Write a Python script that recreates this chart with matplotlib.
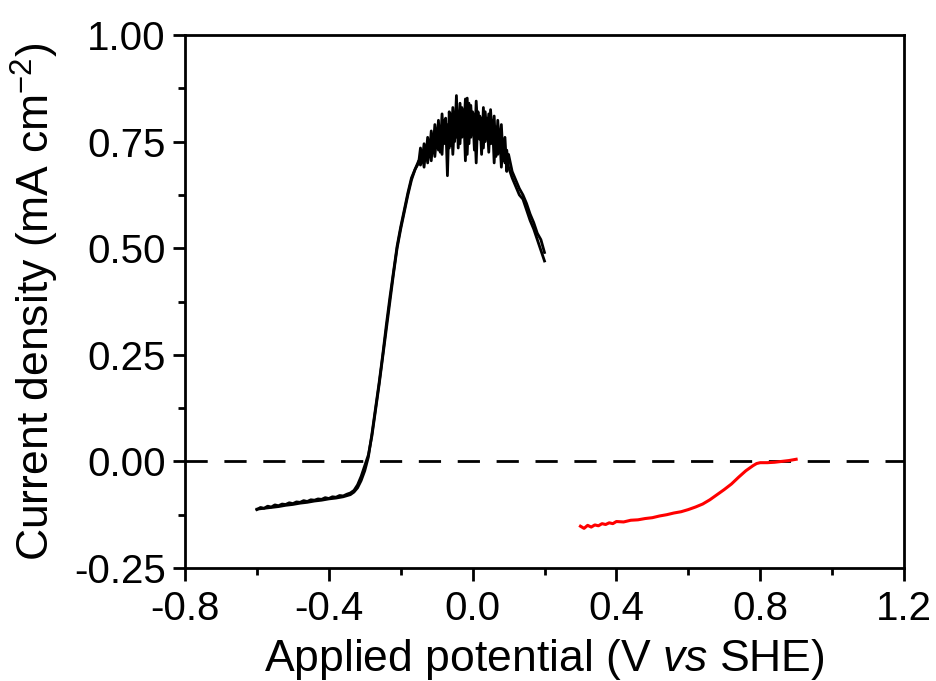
import matplotlib
matplotlib.use("Agg")
import matplotlib.pyplot as plt
from matplotlib.ticker import MultipleLocator

plt.rcParams['font.family'] = ['Liberation Sans', 'DejaVu Sans']
plt.rcParams['mathtext.fontset'] = 'custom'
plt.rcParams['mathtext.rm'] = 'Liberation Sans'
plt.rcParams['mathtext.it'] = 'Liberation Sans:italic'

# Black CV: forward scan (-0.6 -> 0.2 V)
fwd_x = [-0.60, -0.59, -0.58, -0.57, -0.56, -0.55, -0.54, -0.53, -0.52, -0.51,
         -0.50, -0.49, -0.48, -0.47, -0.46, -0.45, -0.44, -0.43, -0.42, -0.41,
         -0.40, -0.39, -0.38, -0.37, -0.36, -0.35, -0.34, -0.33, -0.32, -0.31,
         -0.30, -0.29, -0.28, -0.27, -0.26, -0.25, -0.24, -0.23, -0.22, -0.21,
         -0.20, -0.19, -0.18, -0.17, -0.16,
         -0.150, -0.145, -0.140, -0.135, -0.130, -0.125, -0.120, -0.115, -0.110, -0.105,
         -0.100, -0.095, -0.090, -0.085, -0.080, -0.075, -0.070, -0.065, -0.060, -0.055,
         -0.050, -0.045, -0.040, -0.035, -0.030, -0.025, -0.020, -0.015, -0.010, -0.005,
         0.000, 0.005, 0.010, 0.015, 0.020, 0.025, 0.030, 0.035, 0.040, 0.045,
         0.050, 0.055, 0.060, 0.065, 0.070, 0.075, 0.080, 0.085, 0.090, 0.095, 0.100,
         0.11, 0.12, 0.13, 0.14, 0.15, 0.16, 0.17, 0.18, 0.19, 0.20]
fwd_y = [-0.113, -0.108, -0.110, -0.105, -0.107, -0.102, -0.104, -0.100, -0.101, -0.097,
         -0.099, -0.095, -0.096, -0.092, -0.094, -0.090, -0.091, -0.088, -0.089, -0.085,
         -0.087, -0.083, -0.084, -0.080, -0.081, -0.077, -0.074, -0.068, -0.055, -0.035,
         -0.010, 0.015, 0.060, 0.120, 0.180, 0.245, 0.310, 0.375, 0.440, 0.500,
         0.545, 0.585, 0.625, 0.660, 0.685,
         0.700, 0.735, 0.705, 0.745, 0.715, 0.760, 0.720, 0.775, 0.730, 0.790,
         0.740, 0.800, 0.725, 0.815, 0.745, 0.805, 0.670, 0.820, 0.740, 0.830,
         0.750, 0.858, 0.735, 0.840, 0.760, 0.825, 0.705, 0.852, 0.745, 0.835,
         0.770, 0.815, 0.700, 0.820, 0.755, 0.805, 0.735, 0.820, 0.760, 0.815,
         0.745, 0.800, 0.700, 0.785, 0.720, 0.770, 0.690, 0.750, 0.700, 0.730, 0.690,
         0.665, 0.645, 0.625, 0.615, 0.590, 0.565, 0.545, 0.520, 0.495, 0.470]

# Black CV: reverse scan (0.2 -> -0.6 V)
rev_x = [0.20, 0.19, 0.18, 0.17, 0.16, 0.15, 0.14, 0.13, 0.12, 0.11,
         0.100, 0.095, 0.090, 0.085, 0.080, 0.075, 0.070, 0.065, 0.060, 0.055,
         0.050, 0.045, 0.040, 0.035, 0.030, 0.025, 0.020, 0.015, 0.010, 0.005,
         0.000, -0.005, -0.010, -0.015, -0.020, -0.025, -0.030, -0.035, -0.040, -0.045,
         -0.050, -0.055, -0.060, -0.065, -0.070, -0.075, -0.080, -0.085, -0.090, -0.095,
         -0.100, -0.105, -0.110, -0.115, -0.120, -0.125, -0.130, -0.135, -0.140, -0.145, -0.150,
         -0.16, -0.17, -0.18, -0.19, -0.20, -0.21, -0.22, -0.23, -0.24, -0.25,
         -0.26, -0.27, -0.28, -0.29, -0.30, -0.31, -0.32, -0.33, -0.34, -0.36,
         -0.38, -0.40, -0.42, -0.44, -0.46, -0.48, -0.50, -0.52, -0.54, -0.56, -0.58, -0.60]
rev_y = [0.490, 0.520, 0.535, 0.560, 0.580, 0.605, 0.625, 0.640, 0.660, 0.680,
         0.720, 0.680, 0.760, 0.705, 0.790, 0.730, 0.800, 0.715, 0.810, 0.745,
         0.825, 0.725, 0.805, 0.750, 0.830, 0.720, 0.810, 0.765, 0.845, 0.730,
         0.820, 0.760, 0.840, 0.720, 0.850, 0.770, 0.830, 0.745, 0.815, 0.760,
         0.800, 0.720, 0.815, 0.735, 0.790, 0.745, 0.800, 0.720, 0.780, 0.730,
         0.765, 0.715, 0.760, 0.705, 0.745, 0.700, 0.735, 0.690, 0.720, 0.695, 0.705,
         0.685, 0.665, 0.630, 0.590, 0.550, 0.505, 0.445, 0.385, 0.320, 0.250,
         0.185, 0.125, 0.065, 0.010, -0.022, -0.045, -0.062, -0.072, -0.078, -0.083,
         -0.086, -0.088, -0.091, -0.093, -0.096, -0.098, -0.101, -0.103, -0.106, -0.108, -0.110, -0.112]

# Red curve
red_x = [0.30, 0.31, 0.32, 0.33, 0.34, 0.35, 0.36, 0.37, 0.38, 0.39,
         0.40, 0.42, 0.44, 0.46, 0.48, 0.50, 0.52, 0.54, 0.56, 0.58,
         0.60, 0.62, 0.64, 0.66, 0.68, 0.70, 0.72, 0.74, 0.76, 0.78,
         0.79, 0.80, 0.82, 0.84, 0.86, 0.88, 0.90]
red_y = [-0.152, -0.157, -0.150, -0.154, -0.149, -0.151, -0.146, -0.148, -0.144, -0.146,
         -0.141, -0.142, -0.138, -0.137, -0.134, -0.132, -0.128, -0.125, -0.121, -0.118,
         -0.113, -0.107, -0.100, -0.090, -0.078, -0.066, -0.053, -0.037, -0.022, -0.010,
         -0.005, -0.003, -0.003, -0.002, 0.000, 0.002, 0.005]

xticks = [-0.8, -0.4, 0.0, 0.4, 0.8, 1.2]
yticks = [-0.25, 0.00, 0.25, 0.50, 0.75, 1.00]

fig = plt.figure(figsize=(9.37, 6.81), dpi=100)
ax = fig.add_axes([185/937, 1 - 568/681, (904 - 185)/937, (568 - 35)/681])

ax.axhline(0, color='black', lw=2, dashes=(8, 6), zorder=1)
ax.plot(fwd_x, fwd_y, color='black', lw=2, zorder=3)
ax.plot(rev_x, rev_y, color='black', lw=2, zorder=3)
ax.plot(red_x, red_y, color='#ff0000', lw=2.2, zorder=3)

ax.set_xlim(-0.8, 1.2)
ax.set_ylim(-0.25, 1.0)
ax.set_xticks(xticks)
ax.set_xticklabels([f"{v:.1f}" for v in xticks])
ax.set_yticks(yticks)
ax.set_yticklabels([f"{v:.2f}" for v in yticks])
ax.xaxis.set_minor_locator(MultipleLocator(0.2))
ax.yaxis.set_minor_locator(MultipleLocator(0.125))

for s in ax.spines.values():
    s.set_linewidth(2)
ax.tick_params(which='major', direction='out', length=9, width=2, labelsize=29,
               top=False, right=False, pad=5)
ax.tick_params(axis='x', which='major', pad=7)
ax.tick_params(which='minor', direction='out', length=5, width=2, top=False, right=False)

ax.set_xlabel(r"Applied potential (V $\it{vs}$ SHE)", fontsize=32, labelpad=6)
ax.set_ylabel(r"Current density (mA cm$^{-2}$)", fontsize=32, labelpad=9)

fig.savefig("out.png", dpi=100)
